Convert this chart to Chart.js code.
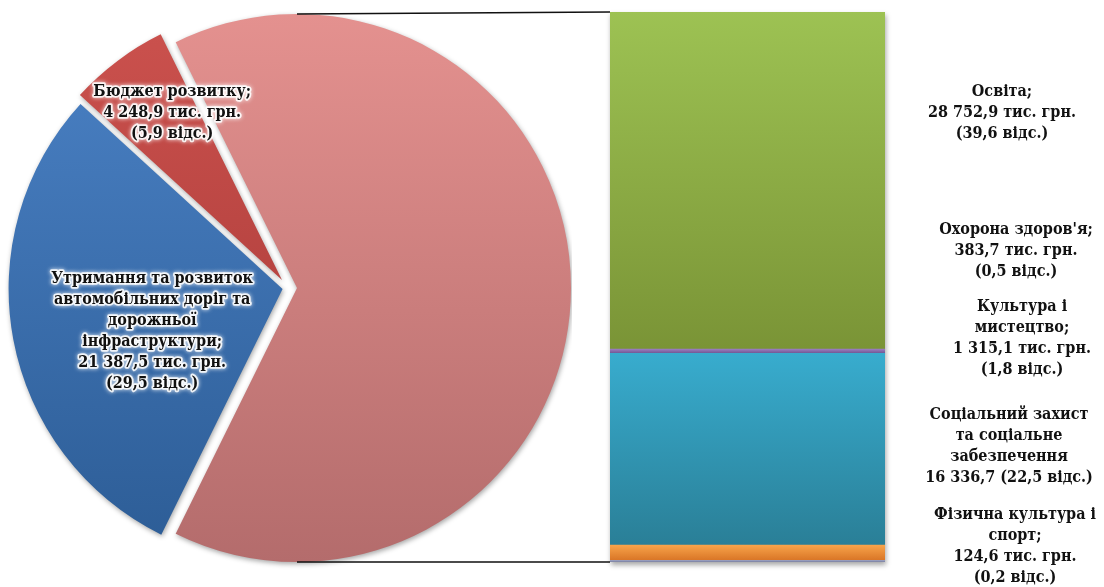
<!DOCTYPE html>
<html><head><meta charset="utf-8">
<script src="https://cdn.jsdelivr.net/npm/chart.js@4.4.0/dist/chart.umd.min.js"></script>
<style>
html,body{margin:0;padding:0;background:#fff;width:1104px;height:587px;overflow:hidden}
#pieWrap{position:absolute;left:4px;top:4px;width:568px;height:568px}
#barWrap{position:absolute;left:0;top:0;width:1104px;height:587px}
</style></head><body>
<div id="pieWrap"><canvas id="pie"></canvas></div>
<div id="barWrap"><canvas id="bar"></canvas></div>
<script>
// ---------- DATA ----------
const pieCategories = ['Інші видатки', 'Утримання та розвиток автомобільних доріг та дорожньої інфраструктури', 'Бюджет розвитку'];
const pieNameLines = [[], ['Утримання та розвиток', 'автомобільних доріг та', 'дорожньої', 'інфраструктури;'], ['Бюджет розвитку;']];
const pieAmounts = [null, 21387.5, 4248.9];      // тис. грн. (first slice = sum of the bar)
const piePercents = [null, 29.5, 5.9];

const barCategories = ['Освіта', "Охорона здоров'я", 'Культура і мистецтво', 'Соціальний захист та соціальне забезпечення', 'Фізична культура і спорт'];
const barNameLines = [['Освіта;'], ["Охорона здоров'я;"], ['Культура і', 'мистецтво;'], ['Соціальний захист', 'та соціальне', 'забезпечення'], ['Фізична культура і', 'спорт;']];
const barAmounts = [28752.9, 383.7, 1315.1, 16336.7, 124.6];   // тис. грн.
const barPercents = [39.6, 0.5, 1.8, 22.5, 0.2];
const barJoinedAmount = [false, false, false, true, false];
const barStackOrder = [4, 2, 3, 1, 0];   // bottom -> top

// ---------- STYLE / LAYOUT ----------
const FONT = 'bold 16px "DejaVu Serif Condensed", "DejaVu Serif"';
const LINE_H = 21;
const pieGrad = [['#e4918f', '#b46c6c'], ['#4b82c6', '#2c5c95'], ['#cc524e', '#a33634']];
const pieExplode = [9, 5.5, 10];   // px each slice is pulled out
const pieLabelPlace = [null, {r: 0.520, turn: -6.95}, {r: 0.766, turn: 3.4}];
const barGrad = [['#9dc253', '#7a9436'], ['#9a7cc0', '#6e5590'], ['#f8a44a', '#d97526'], ['#38acce', '#2a7f97'], ['#9aa0c0', '#7b80a0']];
const barLabelPlace = [{dx: 117, y: 92}, {dx: 131, y: 230}, {dx: 137, y: 307}, {dx: 124, y: 415}, {dx: 130, y: 515}];

function fmt(v) {
  const s = v.toFixed(1).split('.');
  return s[0].replace(/\B(?=(\d{3})+(?!\d))/g, ' ') + ',' + s[1];
}
const fmtPct = v => v.toFixed(1).replace('.', ',');

const otherPct = barPercents.reduce((a, b) => a + b, 0);
const otherAmt = barAmounts.reduce((a, b) => a + b, 0);
const pieValues = [otherPct, piePercents[1], piePercents[2]];
pieAmounts[0] = otherAmt;

function vGrad(ctx, top, bottom, c) {
  if (!isFinite(top) || !isFinite(bottom) || top === bottom) return c[0];
  const g = ctx.createLinearGradient(0, top, 0, bottom);
  g.addColorStop(0, c[0]); g.addColorStop(1, c[1]);
  return g;
}
function explodeShift(arc, i) {
  const h = (arc.startAngle + arc.endAngle) / 2;
  return {x: Math.cos(h) * pieExplode[i], y: Math.sin(h) * pieExplode[i]};
}

// ---------- PIE ----------
const pieLabelPlugin = {
  id: 'pieLabels',
  beforeDatasetDraw(chart, args) {
    const ctx = chart.ctx;
    ctx.save();
    ctx.shadowColor = 'rgba(0,0,0,0.35)';
    ctx.shadowBlur = 5; ctx.shadowOffsetX = 1; ctx.shadowOffsetY = 2;
    args.meta.data.forEach((arc, i) => {
      const s = explodeShift(arc, i);
      ctx.save();
      ctx.translate(s.x, s.y);
      arc.draw(ctx, chart.chartArea);
      ctx.restore();
    });
    ctx.restore();
    return false;
  },
  afterDatasetsDraw(chart) {
    const ctx = chart.ctx;
    const arcs = chart.getDatasetMeta(0).data;
    ctx.save();
    ctx.font = FONT; ctx.textAlign = 'center'; ctx.textBaseline = 'middle';
    arcs.forEach((arc, i) => {
      const p = pieLabelPlace[i];
      if (!p) return;
      const mid = (arc.startAngle + arc.endAngle) / 2 + p.turn * Math.PI / 180;
      const cx = arc.x + Math.cos(mid) * arc.outerRadius * p.r;
      const cy = arc.y + Math.sin(mid) * arc.outerRadius * p.r;
      const lines = pieNameLines[i].concat([fmt(pieAmounts[i]) + ' тис. грн.', '(' + fmtPct(piePercents[i]) + ' відс.)']);
      const y0 = cy - (lines.length - 1) * LINE_H / 2;
      lines.forEach((t, k) => {
        const y = y0 + k * LINE_H;
        ctx.save();
        ctx.shadowColor = 'rgba(255,255,255,1)'; ctx.shadowBlur = 4;
        ctx.strokeStyle = 'rgba(255,255,255,0.85)'; ctx.lineWidth = 3.5; ctx.lineJoin = 'round';
        ctx.strokeText(t, cx, y);
        ctx.restore();
        ctx.fillStyle = '#111';
        ctx.fillText(t, cx, y);
      });
    });
    ctx.restore();
  }
};

const pieChart = new Chart(document.getElementById('pie'), {
  type: 'pie',
  data: {
    labels: pieCategories,
    datasets: [{
      data: pieValues,
      backgroundColor: (c) => {
        const a = c.chart.chartArea;
        if (!a) return pieGrad[c.dataIndex][0];
        return vGrad(c.chart.ctx, a.top, a.bottom, pieGrad[c.dataIndex]);
      },
      borderWidth: 0, hoverBorderWidth: 0,
      offset: 0, hoverOffset: 0
    }]
  },
  options: {
    responsive: true, maintainAspectRatio: false, animation: false,
    rotation: 90 - otherPct * 3.6 / 2,
    layout: {padding: 10},
    plugins: {legend: {display: false}, tooltip: {enabled: false}}
  },
  plugins: [pieLabelPlugin]
});

// ---------- BAR ----------
const cumBefore = {};
(function () { let s = 0; barStackOrder.forEach(i => { cumBefore[i] = s; s += barPercents[i]; }); })();

const barPlugin = {
  id: 'barExtras',
  beforeDatasetsDraw(chart) {
    const ctx = chart.ctx, a = chart.chartArea;
    ctx.save();
    ctx.shadowColor = 'rgba(0,0,0,0.35)'; ctx.shadowBlur = 5; ctx.shadowOffsetX = 1; ctx.shadowOffsetY = 3;
    ctx.fillStyle = '#888';
    ctx.fillRect(a.left, a.top, a.right - a.left, a.bottom - a.top);
    ctx.restore();
  },
  afterDatasetsDraw(chart) {
    const ctx = chart.ctx, a = chart.chartArea;
    // connector lines to the pie
    const pc = document.getElementById('pie').getBoundingClientRect();
    const bc = chart.canvas.getBoundingClientRect();
    const arc = pieChart.getDatasetMeta(0).data[0];
    const sh = explodeShift(arc, 0);
    const px = pc.left - bc.left + arc.x + sh.x, py = pc.top - bc.top + arc.y + sh.y, r = arc.outerRadius;
    ctx.save();
    ctx.strokeStyle = '#111'; ctx.lineWidth = 1.5;
    ctx.beginPath();
    ctx.moveTo(px, py - r); ctx.lineTo(a.left, a.top);
    ctx.moveTo(px, py + r); ctx.lineTo(a.left, a.bottom);
    ctx.stroke();
    ctx.restore();
    // labels
    ctx.save();
    ctx.font = FONT; ctx.textAlign = 'center'; ctx.textBaseline = 'middle'; ctx.fillStyle = '#111';
    barCategories.forEach((c, i) => {
      const lines = barNameLines[i].slice();
      if (barJoinedAmount[i]) lines.push(fmt(barAmounts[i]) + ' (' + fmtPct(barPercents[i]) + ' відс.)');
      else lines.push(fmt(barAmounts[i]) + ' тис. грн.', '(' + fmtPct(barPercents[i]) + ' відс.)');
      const x = a.right + barLabelPlace[i].dx;
      lines.forEach((t, k) => ctx.fillText(t, x, barLabelPlace[i].y + k * LINE_H));
    });
    ctx.restore();
  }
};

const barChart = new Chart(document.getElementById('bar'), {
  type: 'bar',
  data: {
    labels: [''],
    datasets: barStackOrder.map(i => ({
      label: barCategories[i],
      data: [barPercents[i]],
      backgroundColor: (c) => {
        const y = c.chart.scales.y;
        if (!y) return barGrad[i][0];
        return vGrad(c.chart.ctx, y.getPixelForValue(cumBefore[i] + barPercents[i]), y.getPixelForValue(cumBefore[i]), barGrad[i]);
      },
      borderWidth: 0,
      barPercentage: 1, categoryPercentage: 1
    }))
  },
  options: {
    responsive: true, maintainAspectRatio: false, animation: false,
    layout: {padding: {left: 610, right: 219, top: 12, bottom: 25}},
    scales: {
      x: {stacked: true, display: false},
      y: {stacked: true, display: false, min: 0, max: otherPct}
    },
    plugins: {legend: {display: false}, tooltip: {enabled: false}}
  },
  plugins: [barPlugin]
});
</script>
</body></html>
